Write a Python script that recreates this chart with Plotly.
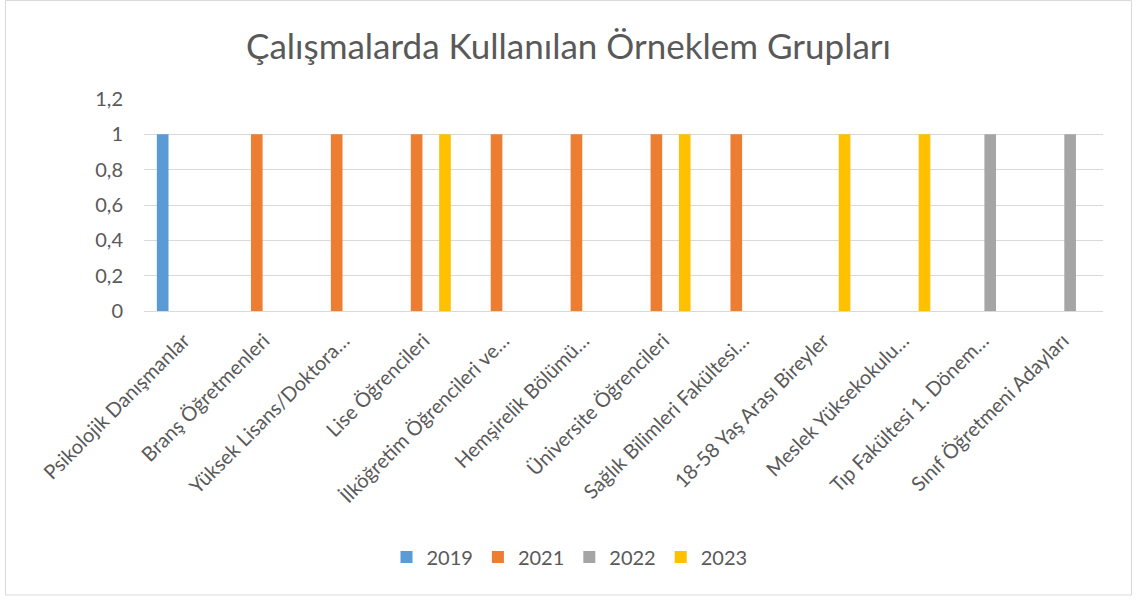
import plotly.graph_objects as go

categories = [
    "Psikolojik Danışmanlar",
    "Branş Öğretmenleri",
    "Yüksek Lisans/Doktora…",
    "Lise Öğrencileri",
    "İlköğretim Öğrencileri ve…",
    "Hemşirelik Bölümü…",
    "Üniversite Öğrencileri",
    "Sağlık Bilimleri Fakültesi…",
    "18-58 Yaş Arası Bireyler",
    "Meslek Yüksekokulu…",
    "Tıp Fakültesi 1. Dönem…",
    "Sınıf Öğretmeni Adayları",
]
s2019 = [1, None, None, None, None, None, None, None, None, None, None, None]
s2021 = [None, 1, 1, 1, 1, 1, 1, 1, None, None, None, None]
s2022 = [None, None, None, None, None, None, None, None, None, None, 1, 1]
s2023 = [None, None, None, 1, None, None, 1, None, 1, 1, None, None]

series = [("2019", s2019, "#5B9BD5"), ("2021", s2021, "#ED7D31"),
          ("2022", s2022, "#A5A5A5"), ("2023", s2023, "#FFC000")]

FONT = "Lato"
TXT = "#595959"

fig = go.Figure()
for name, vals, col in series:
    fig.add_trace(go.Bar(x=categories, y=vals, name=name, marker_color=col,
                         marker_line_width=0))

W, H = 1137, 601
L, R, T, B = 144, 34, 99, 290
pw, ph = W - L - R, H - T - B

def px(x):
    return (x - L) / pw

def py(y):
    return (H - B - y) / ph

fig.update_layout(
    width=W, height=H,
    margin=dict(l=L, r=R, t=T, b=B),
    paper_bgcolor="white", plot_bgcolor="white",
    barmode="group", bargap=0.29, bargroupgap=0.18,
    separators=", ",
    font=dict(family=FONT, color=TXT, size=20),
    title=dict(text="Çalışmalarda Kullanılan Örneklem Grupları",
               x=0.5, xref="container", xanchor="center",
               y=1 - 47 / H, yanchor="middle", yref="container",
               font=dict(family=FONT, size=35, color=TXT)),
    xaxis=dict(tickangle=-45, showgrid=False, showline=False, ticks="",
               ticklabelstandoff=13,
               tickfont=dict(size=20, color=TXT, family=FONT)),
    yaxis=dict(range=[0, 1.2], dtick=0.2, tick0=0, showgrid=True,
               gridcolor="#D9D9D9", gridwidth=1, zeroline=True,
               zerolinecolor="#D9D9D9", zerolinewidth=1, ticks="",
               ticklabelstandoff=20,
               tickfont=dict(size=20, color=TXT, family=FONT)),
    legend=dict(orientation="h", x=px(W / 2 + 1), xanchor="center",
                y=py(557), yanchor="middle",
                font=dict(size=20, color=TXT, family=FONT),
                itemwidth=30, traceorder="normal"),
    showlegend=True,
    shapes=[dict(type="rect", xref="paper", yref="paper",
                 x0=px(5.5), x1=px(1131.5), y0=py(595), y1=py(0.5),
                 line=dict(color="#D9D9D9", width=1), fillcolor="rgba(0,0,0,0)",
                 layer="below")],
)

fig.write_html("out.html", config={"displayModeBar": False},
               post_script="document.body.style.margin='0';document.body.style.overflow='hidden';")
